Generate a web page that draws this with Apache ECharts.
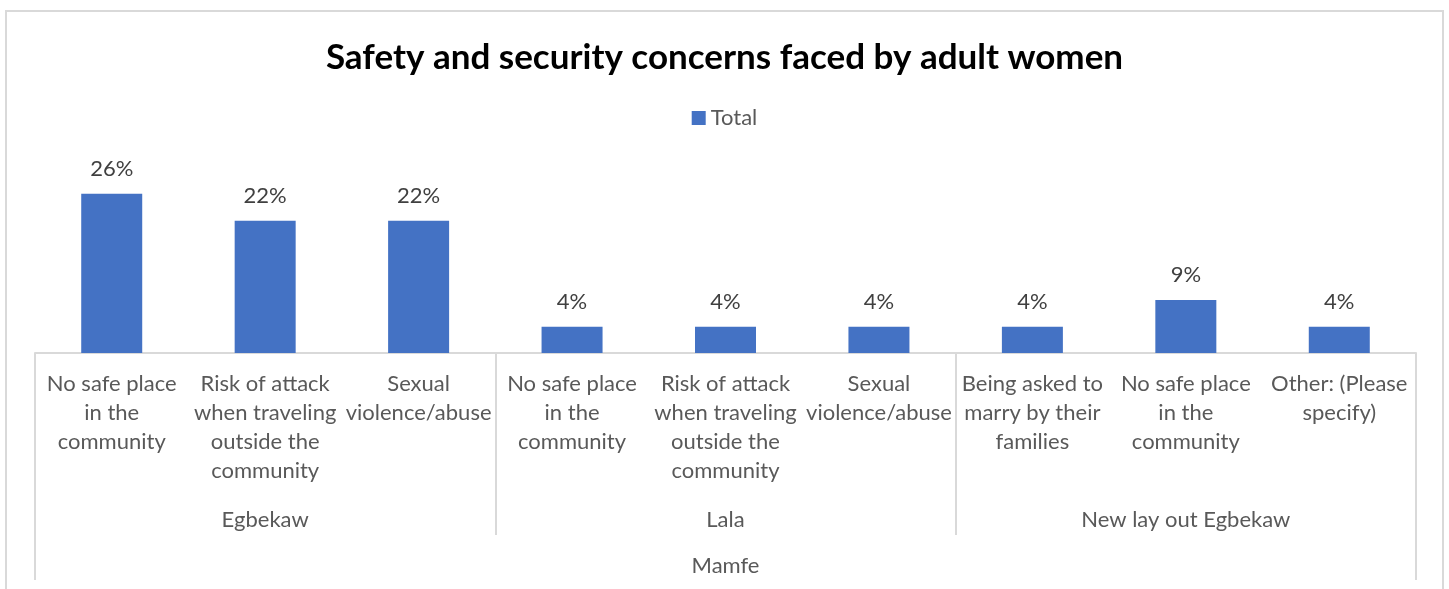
<!DOCTYPE html>
<html>
<head>
<meta charset="utf-8">
<script src="https://cdn.jsdelivr.net/npm/echarts@6/dist/echarts.min.js"></script>
<style>
html,body{margin:0;padding:0;width:1449px;height:589px;overflow:hidden;background:#fff;}
#frame{position:absolute;left:5px;top:10px;width:1439px;height:640px;border:2px solid #d9d9d9;box-sizing:border-box;}
#chart{position:absolute;left:0;top:0;width:1449px;height:589px;}
</style>
</head>
<body>
<div id="frame"></div>
<div id="chart"></div>
<script>
const title = "Safety and security concerns faced by adult women";
const seriesName = "Total";
const categories = [
  "No safe place\nin the\ncommunity",
  "Risk of attack\nwhen traveling\noutside the\ncommunity",
  "Sexual\nviolence/abuse",
  "No safe place\nin the\ncommunity",
  "Risk of attack\nwhen traveling\noutside the\ncommunity",
  "Sexual\nviolence/abuse",
  "Being asked to\nmarry by their\nfamilies",
  "No safe place\nin the\ncommunity",
  "Other: (Please\nspecify)"
];
const groups = ["Egbekaw", "Lala", "New lay out Egbekaw"];
const topGroups = ["Mamfe"];
const values = [26.1, 21.7, 21.7, 4.3, 4.3, 4.3, 4.3, 8.7, 4.3];

const FONT = "Lato";
const GRAY = "#d9d9d9";
const chart = echarts.init(document.getElementById('chart'), null, {renderer: 'canvas'});
chart.setOption({
  animation: false,
  textStyle: {fontFamily: FONT},
  title: {
    text: title, left: 'center', top: 35,
    textStyle: {fontFamily: FONT, fontSize: 35, fontWeight: 'bold', color: '#000'}
  },
  legend: {
    data: [seriesName], top: 102, left: 'center',
    icon: 'rect', itemWidth: 14, itemHeight: 14, itemGap: 6,
    textStyle: {fontFamily: FONT, fontSize: 22, color: '#595959'}
  },
  grid: {left: 35, right: 33, top: 170, bottom: 236, containLabel: false},
  xAxis: [
    {
      type: 'category', data: categories, position: 'bottom',
      axisLine: {show: true, lineStyle: {color: GRAY, width: 2}},
      axisTick: {show: false},
      axisLabel: {interval: 0, margin: 16, color: '#595959', fontFamily: FONT, fontSize: 22, lineHeight: 29, align: 'center'}
    },
    {
      type: 'category', data: groups, position: 'bottom', gridIndex: 0,
      axisLine: {show: false},
      axisTick: {show: true, length: 182, lineStyle: {color: GRAY, width: 2}},
      axisLabel: {interval: 0, margin: 152, color: '#595959', fontFamily: FONT, fontSize: 22, lineHeight: 29}
    },
    {
      type: 'category', data: topGroups, position: 'bottom', gridIndex: 0,
      axisLine: {show: false},
      axisTick: {show: true, length: 227, lineStyle: {color: GRAY, width: 2}},
      axisLabel: {interval: 0, margin: 198, color: '#595959', fontFamily: FONT, fontSize: 22, lineHeight: 29}
    }
  ],
  yAxis: {type: 'value', min: 0, max: 30, show: false, splitLine: {show: false}},
  series: [{
    name: seriesName, type: 'bar', xAxisIndex: 0, data: values,
    barWidth: 61,
    itemStyle: {color: '#4472C4'},
    label: {
      show: true, position: 'top', distance: 14,
      fontFamily: FONT, fontSize: 22, color: '#404040',
      formatter: p => Math.round(p.value) + '%'
    }
  }]
});
</script>
</body>
</html>
